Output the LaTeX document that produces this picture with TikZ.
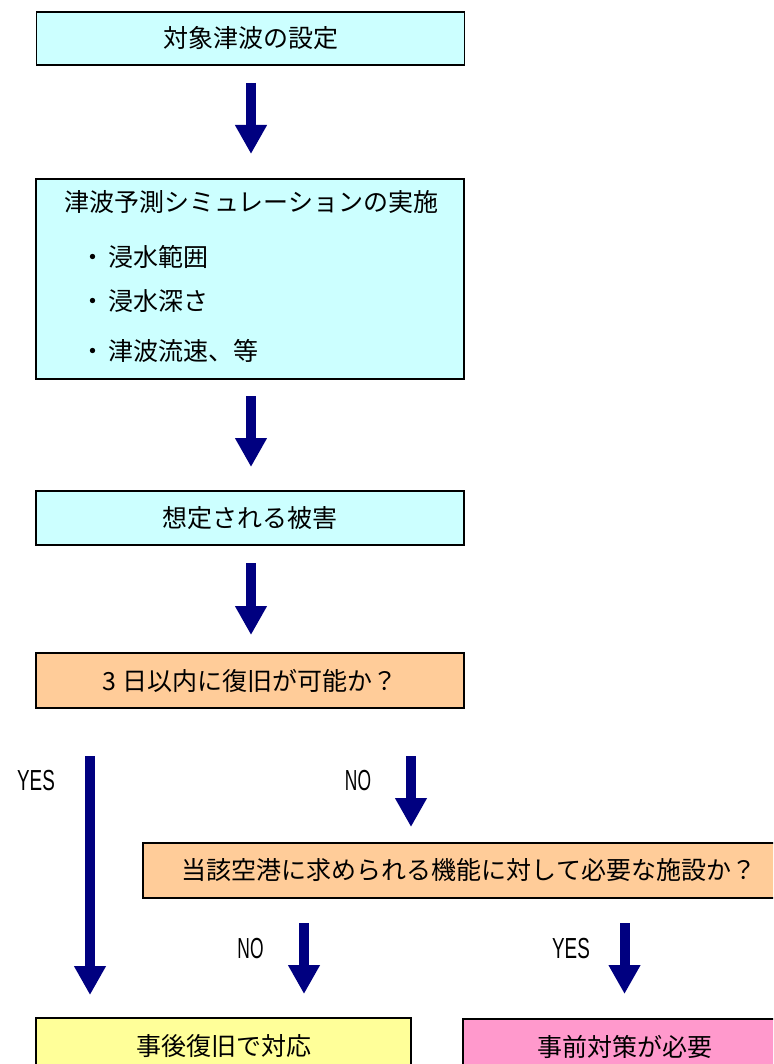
\documentclass[tikz,border=0pt]{standalone}
\usepackage{fontspec}
\usepackage{graphicx}
\setmainfont{Noto Sans CJK JP}
\newfontfamily\latinf{Liberation Sans}
\usetikzlibrary{arrows.meta}
\definecolor{cyanbox}{HTML}{CCFFFF}
\definecolor{orangebox}{HTML}{FFCC99}
\definecolor{yellowbox}{HTML}{FFFF99}
\definecolor{pinkbox}{HTML}{FF99CC}
\definecolor{navyarrow}{HTML}{000080}
\tikzset{
  box/.style={draw=black, line width=1.5pt, inner sep=0pt, font=\fontsize{25}{30}\selectfont},
  bigarrow/.style={draw=navyarrow, line width=10pt, -{Triangle[width=30pt,length=29pt]}, fill=navyarrow},
  txt/.style={inner sep=0pt, font=\fontsize{25}{30}\selectfont},
  yn/.style={inner sep=0pt, font=\latinf\fontsize{29}{30}\selectfont},
}
\begin{document}
\begin{tikzpicture}[x=1pt,y=-1pt]
\useasboundingbox (0,0) rectangle (773,1064);
\clip (0,0) rectangle (773,1064);
% boxes
\node[box, fill=cyanbox, minimum width=428pt, minimum height=53pt] (b1) at (250.5,38.5) {対象津波の設定};
\node[box, fill=cyanbox, minimum width=428pt, minimum height=200pt] (b2) at (250,279) {};
\node[txt] (b2t) at (251,202) {津波予測シミュレーションの実施};
\node[txt, anchor=west] (b2i1) at (80,257) {・\hspace{3pt}浸水範囲};
\node[txt, anchor=west] (b2i2) at (80,301) {・\hspace{3pt}浸水深さ};
\node[txt, anchor=west] (b2i3) at (80,351) {・\hspace{3pt}津波流速、等};
\node[box, fill=cyanbox, minimum width=428pt, minimum height=54pt] (b3) at (250,518) {想定される被害};
\node[box, fill=orangebox, minimum width=428pt, minimum height=55pt] (b4) at (250,680.5) {3 日以内に復旧が可能か？};
\node[box, fill=orangebox, minimum width=652pt, minimum height=55pt] (b5) at (469,870.5) {当該空港に求められる機能に対して必要な施設か？};
\node[box, fill=yellowbox, minimum width=375pt, minimum height=56pt] (b6) at (223.5,1046) {事後復旧で対応};
\node[box, fill=pinkbox, minimum width=324pt, minimum height=56pt] (b7) at (625,1047) {事前対策が必要};
% arrow end points
\coordinate (a1s) at (251,83);   \coordinate (a1e) at (251,154);
\coordinate (a2s) at (251,396);  \coordinate (a2e) at (251,467);
\coordinate (a3s) at (251,563);  \coordinate (a3e) at (251,635);
\coordinate (y1s) at (90,756);   \coordinate (y1e) at (90,995);
\coordinate (n1s) at (411,756);  \coordinate (n1e) at (411,827);
\coordinate (n2s) at (304,923);  \coordinate (n2e) at (304,994);
\coordinate (y2s) at (624.5,923); \coordinate (y2e) at (624.5,994);
\draw[bigarrow] (a1s) -- (a1e);
\draw[bigarrow] (a2s) -- (a2e);
\draw[bigarrow] (a3s) -- (a3e);
\draw[bigarrow] (y1s) -- (y1e);
\draw[bigarrow] (n1s) -- (n1e);
\draw[bigarrow] (n2s) -- (n2e);
\draw[bigarrow] (y2s) -- (y2e);
% labels
\node[yn] (ly1) at (36,780.5) {\scalebox{0.65}[1]{YES}};
\node[yn] (ln1) at (358,780.5) {\scalebox{0.6}[1]{NO}};
\node[yn] (ln2) at (250.5,949) {\scalebox{0.6}[1]{NO}};
\node[yn] (ly2) at (571,949) {\scalebox{0.65}[1]{YES}};
\end{tikzpicture}
\end{document}
